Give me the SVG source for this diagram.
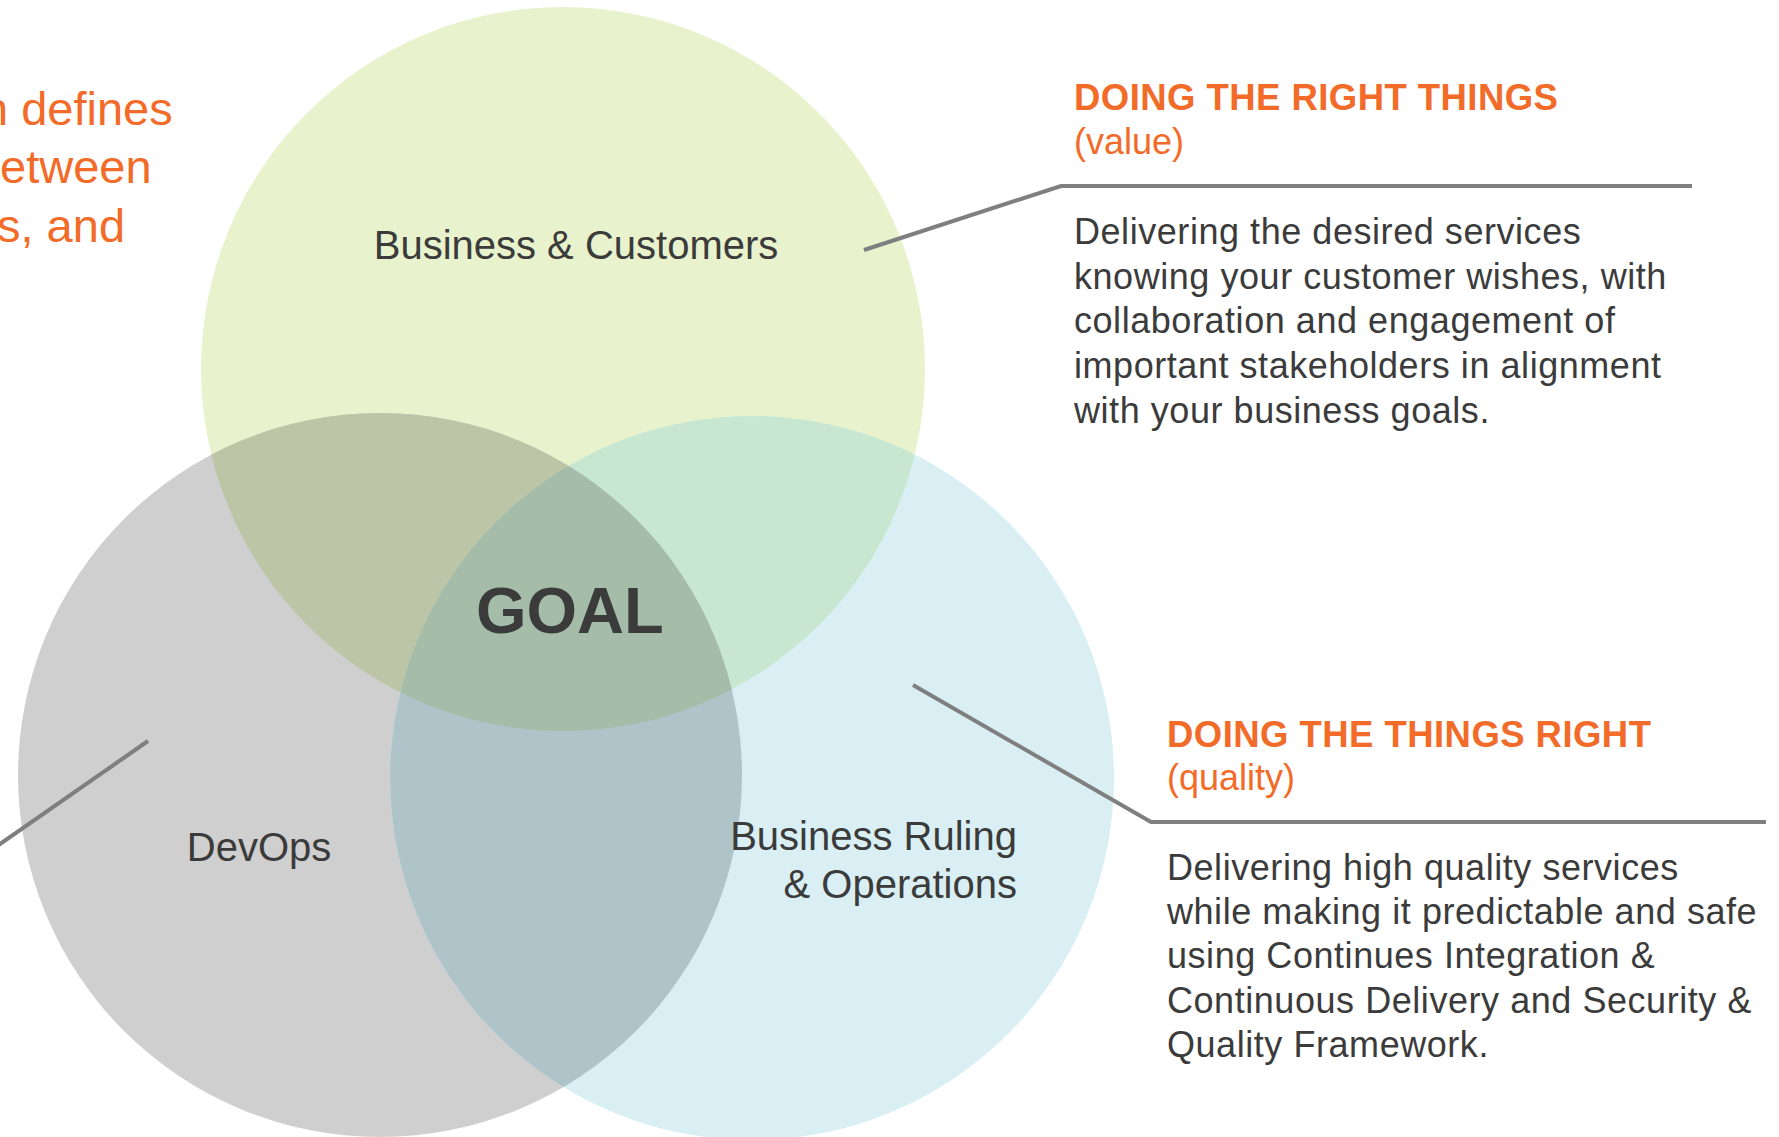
<svg xmlns="http://www.w3.org/2000/svg" width="1779" height="1137" viewBox="0 0 1779 1137">
  <style>
    .orange { fill: #f26b29; font-family: "Liberation Sans", Arial, sans-serif; }
    .dark { fill: #3b3b3b; font-family: "Liberation Sans", Arial, sans-serif; }
    .label { font-size: 40px; }
    .title { font-size: 36.5px; font-weight: bold; letter-spacing: 0.45px; }
    .sub { font-size: 36px; }
    .body { font-size: 36px; letter-spacing: 0.55px; }
    .lead { font-size: 47px; }
    .conn { fill: none; stroke: #7f7f7f; stroke-width: 4; stroke-linejoin: miter; }
  </style>
  <defs>
    <clipPath id="clipG"><circle cx="563" cy="369" r="362"/></clipPath>
    <clipPath id="clipD"><circle cx="380" cy="775" r="362"/></clipPath>
  </defs>
  <rect width="1779" height="1137" fill="#ffffff"/>

  <g id="lead-text">
    <text class="orange lead" x="-18" y="125">n defines</text>
    <text class="orange lead" x="0" y="183">etween</text>
    <text class="orange lead" x="-3" y="242">s, and</text>
  </g>

  <g id="circles">
    <circle id="circle-business" cx="563" cy="369" r="362" fill="#e8f3cd"/>
    <circle id="circle-devops" cx="380" cy="775" r="362" fill="#cfcfcf"/>
    <circle id="circle-operations" cx="752" cy="778" r="362" fill="#d9eff3"/>
    <g clip-path="url(#clipG)">
      <circle cx="380" cy="775" r="362" fill="#bcc6a6"/>
      <circle cx="752" cy="778" r="362" fill="#c7e7d0"/>
    </g>
    <g clip-path="url(#clipD)">
      <circle cx="752" cy="778" r="362" fill="#afc4c9"/>
    </g>
    <g clip-path="url(#clipG)">
      <g clip-path="url(#clipD)">
        <circle cx="752" cy="778" r="362" fill="#a4bca8"/>
      </g>
    </g>
  </g>

  <g id="connectors">
    <polyline class="conn" points="864,250 1061,186 1692,186"/>
    <polyline class="conn" points="913,685 1151,822 1766,822"/>
    <line class="conn" x1="148" y1="741" x2="-10" y2="851"/>
  </g>

  <g id="node-business-customers">
    <text class="dark label" x="576" y="259" text-anchor="middle">Business &amp; Customers</text>
  </g>

  <g id="node-devops">
    <text class="dark label" x="259" y="861" text-anchor="middle">DevOps</text>
  </g>

  <g id="node-business-ruling">
    <text class="dark label" x="1017" y="850" text-anchor="end">Business Ruling</text>
    <text class="dark label" x="1017" y="898" text-anchor="end">&amp; Operations</text>
  </g>

  <g id="node-goal">
    <text class="dark" x="476" y="633" font-size="65" font-weight="bold">GOAL</text>
  </g>

  <g id="node-value">
    <text class="orange title" x="1074" y="110">DOING THE RIGHT THINGS</text>
    <text class="orange sub" x="1074" y="154">(value)</text>
    <text class="dark body" x="1074" y="244">Delivering the desired services</text>
    <text class="dark body" x="1074" y="288.7">knowing your customer wishes, with</text>
    <text class="dark body" x="1074" y="333.4">collaboration and engagement of</text>
    <text class="dark body" x="1074" y="378.1">important stakeholders in alignment</text>
    <text class="dark body" x="1074" y="422.8">with your business goals.</text>
  </g>

  <g id="node-quality">
    <text class="orange title" x="1167" y="747">DOING THE THINGS RIGHT</text>
    <text class="orange sub" x="1167" y="790">(quality)</text>
    <text class="dark body" x="1167" y="880">Delivering high quality services</text>
    <text class="dark body" x="1167" y="924.2">while making it predictable and safe</text>
    <text class="dark body" x="1167" y="968.4">using Continues Integration &amp;</text>
    <text class="dark body" x="1167" y="1012.6">Continuous Delivery and Security &amp;</text>
    <text class="dark body" x="1167" y="1056.8">Quality Framework.</text>
  </g>
</svg>
